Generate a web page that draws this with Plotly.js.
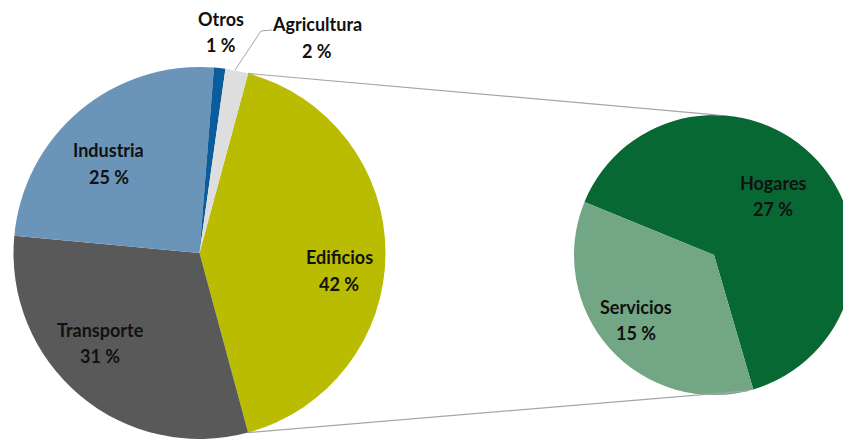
<!DOCTYPE html>
<html>
<head>
<meta charset="utf-8">
<script src="https://cdn.plot.ly/plotly-3.0.1.min.js"></script>
<style>
html,body{margin:0;padding:0;overflow:hidden;background:#fff;width:843px;height:442px;}
#chart{width:860px;height:442px;}
</style>
</head>
<body>
<div id="chart"></div>
<script>
// Data
var mainLabels = ["Edificios", "Transporte", "Industria", "Otros", "Agricultura"];
var mainValues = [42, 31, 25, 1, 2];
var mainColors = ["#b9bc00", "#595959", "#6b94b9", "#0b5c9c", "#dedede"];

var subLabels = ["Hogares", "Servicios"];
var subValues = [27, 15];
var subColors = ["#086834", "#72a684"];

// Layout geometry (pixels)
var W = 860, H = 442;
var main = {cx: 199.5, cy: 253, r: 186};
var sub = {cx: 714, cy: 255, r: 140};

function dom(g) {
  return {
    x: [(g.cx - g.r) / W, (g.cx + g.r) / W],
    y: [(H - (g.cy + g.r)) / H, (H - (g.cy - g.r)) / H]
  };
}

var mainTotal = mainValues.reduce(function (a, b) { return a + b; }, 0);
var edifSpan = mainValues[0] / mainTotal * 360;
var mainRotation = 90 - edifSpan / 2;

var subTotal = subValues.reduce(function (a, b) { return a + b; }, 0);
var servSpan = subValues[1] / subTotal * 360;
var servCenter = 228;
var subRotation = servCenter + servSpan / 2 - 360;

var traces = [
  {
    type: "pie",
    labels: mainLabels,
    values: mainValues,
    marker: {colors: mainColors, line: {width: 0}},
    sort: false,
    direction: "clockwise",
    rotation: mainRotation,
    textinfo: "none",
    hoverinfo: "label+percent",
    domain: dom(main),
    showlegend: false
  },
  {
    type: "pie",
    labels: subLabels,
    values: subValues,
    marker: {colors: subColors, line: {width: 0}},
    sort: false,
    direction: "clockwise",
    rotation: subRotation,
    textinfo: "none",
    hoverinfo: "label+value",
    domain: dom(sub),
    showlegend: false
  }
];

function px(x) { return x / W; }
function py(y) { return 1 - y / H; }

// label positions: [x center, y of first line, y of second line] in pixels
var mainLabelPos = [[339, 257, 284], [100, 329.5, 355.5], [108.5, 150, 176.5], [221, 19, 45], [317, 24, 51]];
var subLabelPos = [[773, 182.5, 209], [636, 306.5, 333]];

var annotations = [];
var labelFont = {family: "Lato, 'Open Sans', sans-serif", size: 18, color: "#111111"};
function addLabels(labels, values, pos) {
  for (var i = 0; i < labels.length; i++) {
    var lines = [labels[i], values[i] + " %"];
    for (var j = 0; j < 2; j++) {
      annotations.push({
        xref: "paper", yref: "paper",
        x: px(pos[i][0]), y: py(pos[i][1 + j]),
        xanchor: "center", yanchor: "middle",
        text: "<b>" + lines[j] + "</b>",
        showarrow: false,
        font: labelFont,
        align: "center"
      });
    }
  }
}
addLabels(mainLabels, mainValues, mainLabelPos);
addLabels(subLabels, subValues, subLabelPos);

// connector lines from Edificios edges to secondary pie
function pt(g, angDeg) {
  var a = angDeg * Math.PI / 180;
  return [g.cx + g.r * Math.sin(a), g.cy - g.r * Math.cos(a)];
}
var eTop = pt(main, mainRotation);
var eBot = pt(main, mainRotation + edifSpan);
var sTop = pt(sub, 2);
var sBot = pt(sub, 166);

var shapes = [
  {type: "line", xref: "paper", yref: "paper",
   x0: px(eTop[0]), y0: py(eTop[1]), x1: px(sTop[0]), y1: py(sTop[1]),
   line: {color: "#a6a6a6", width: 1.2}},
  {type: "line", xref: "paper", yref: "paper",
   x0: px(eBot[0]), y0: py(eBot[1]), x1: px(sBot[0]), y1: py(sBot[1]),
   line: {color: "#a6a6a6", width: 1.2}},
  // Agricultura leader line
  {type: "path", xref: "paper", yref: "paper",
   path: "M " + px(235) + "," + py(70) + " L " + px(261) + "," + py(31) + " L " + px(272) + "," + py(30),
   line: {color: "#a6a6a6", width: 1}}
];

var layout = {
  width: W, height: H,
  margin: {l: 0, r: 0, t: 0, b: 0, pad: 0},
  paper_bgcolor: "#ffffff",
  plot_bgcolor: "#ffffff",
  showlegend: false,
  annotations: annotations,
  shapes: shapes
};

Plotly.newPlot("chart", traces, layout, {displayModeBar: false, staticPlot: true});
</script>
</body>
</html>
